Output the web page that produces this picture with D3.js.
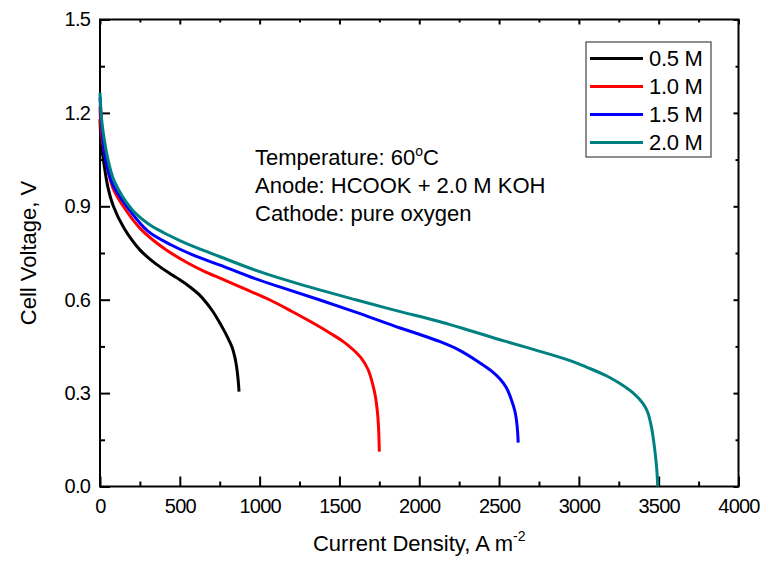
<!DOCTYPE html>
<html>
<head>
<meta charset="utf-8">
<script src="https://cdn.jsdelivr.net/npm/d3@7"></script>
<style>
  body { margin: 0; background: #fff; }
  svg { display: block; font-family: "Liberation Sans", Arial, sans-serif; }
  .tick text { font-size: 20px; letter-spacing: -0.8px; fill: #000; }
</style>
</head>
<body>
<svg id="chart" width="764" height="563"></svg>
<script>
// polarization curves, current density (A m-2) vs cell voltage (V)
const labels = ["0.5 M", "1.0 M", "1.5 M", "2.0 M"];
const colors = ["#000000", "#ff0000", "#0000ff", "#008080"];

const j05 = [0, 8, 21, 50, 84, 150, 250, 350, 450, 500, 564, 620, 670, 706, 740, 775, 800, 827, 845, 856, 865, 871];
const v05 = [1.18, 1.1, 1.05, 0.96, 0.9, 0.83, 0.76, 0.715, 0.68, 0.664, 0.641, 0.617, 0.588, 0.563, 0.535, 0.503, 0.478, 0.448, 0.415, 0.384, 0.345, 0.305];

const j10 = [0, 10, 36, 80, 146, 250, 400, 550, 650, 752, 900, 1065, 1200, 1335, 1450, 1520, 1585, 1640, 1680, 1705, 1725, 1738, 1745, 1750];
const v10 = [1.22, 1.13, 1.05, 0.96, 0.9, 0.83, 0.765, 0.718, 0.692, 0.669, 0.636, 0.599, 0.563, 0.525, 0.49, 0.467, 0.44, 0.41, 0.375, 0.335, 0.29, 0.24, 0.19, 0.112];

const j15 = [0, 12, 35, 80, 167, 300, 450, 600, 752, 948, 1150, 1378, 1625, 1875, 2000, 2131, 2250, 2381, 2450, 2506, 2545, 2580, 2600, 2613, 2620];
const v15 = [1.25, 1.15, 1.05, 0.97, 0.9, 0.82, 0.775, 0.74, 0.711, 0.672, 0.637, 0.599, 0.556, 0.51, 0.489, 0.465, 0.438, 0.397, 0.372, 0.345, 0.318, 0.275, 0.24, 0.195, 0.141];

const j20 = [0, 10, 25, 50, 90, 200, 300, 400, 500, 600, 752, 1000, 1250, 1608, 1875, 2125, 2542, 2750, 2958, 3050, 3175, 3260, 3341, 3400, 3430, 3455, 3475, 3488, 3494];
const v20 = [1.265, 1.18, 1.12, 1.05, 0.98, 0.89, 0.845, 0.815, 0.79, 0.768, 0.738, 0.69, 0.65, 0.599, 0.5625, 0.53, 0.466, 0.435, 0.402, 0.383, 0.355, 0.33, 0.3, 0.268, 0.24, 0.19, 0.12, 0.055, 0.0];

const xTicks = [0, 500, 1000, 1500, 2000, 2500, 3000, 3500, 4000];
const yTicks = [0.0, 0.3, 0.6, 0.9, 1.2, 1.5];
const notes = ["Temperature: 60", "Anode: HCOOK + 2.0 M KOH", "Cathode: pure oxygen"];

const series = [[j05, v05], [j10, v10], [j15, v15], [j20, v20]].map(([j, v], i) => ({
  label: labels[i],
  color: colors[i],
  points: j.map((d, k) => [d, v[k]]),
}));

const svg = d3.select("#chart");
const mLeft = 100, mRight = 738.5, mTop = 19.5, mBottom = 486.5;

const x = d3.scaleLinear().domain([0, 4000]).range([mLeft, mRight]);
const y = d3.scaleLinear().domain([0, 1.5]).range([mBottom, mTop]);

const xMinor = d3.range(250, 4000, 500);
const yMinor = d3.range(0.15, 1.5, 0.3);

// minor ticks first, no labels
svg.append("g").attr("transform", `translate(0,${mBottom})`)
  .call(d3.axisBottom(x).tickValues(xMinor).tickSize(-5).tickFormat(""));
svg.append("g").attr("transform", `translate(${mLeft},0)`)
  .call(d3.axisLeft(y).tickValues(yMinor).tickSize(-5).tickFormat(""));
svg.append("g").attr("transform", `translate(0,${mTop})`)
  .call(d3.axisTop(x).tickValues(xMinor).tickSize(-3).tickFormat(""));
svg.append("g").attr("transform", `translate(${mRight},0)`)
  .call(d3.axisRight(y).tickValues(yMinor).tickSize(-3).tickFormat(""));

// major ticks
svg.append("g").attr("transform", `translate(0,${mBottom})`)
  .call(d3.axisBottom(x).tickValues(xTicks).tickSize(-10).tickPadding(12).tickFormat(d3.format("d")));
svg.append("g").attr("transform", `translate(${mLeft},0)`)
  .call(d3.axisLeft(y).tickValues(yTicks).tickSize(-10).tickPadding(10).tickFormat(d3.format(".1f")));
svg.append("g").attr("transform", `translate(0,${mTop})`)
  .call(d3.axisTop(x).tickValues(xTicks).tickSize(-5).tickFormat(""));
svg.append("g").attr("transform", `translate(${mRight},0)`)
  .call(d3.axisRight(y).tickValues(yTicks).tickSize(-5).tickFormat(""));

svg.selectAll(".domain").remove();
svg.selectAll(".tick line").attr("stroke", "#000").attr("stroke-width", 2);
svg.selectAll("g").attr("font-family", null).attr("font-size", null);

// frame
svg.append("rect")
  .attr("x", mLeft).attr("y", mTop)
  .attr("width", mRight - mLeft).attr("height", mBottom - mTop)
  .attr("fill", "none").attr("stroke", "#000").attr("stroke-width", 2);

// curves
const line = d3.line()
  .x(d => x(d[0]))
  .y(d => y(d[1]))
  .curve(d3.curveCatmullRom.alpha(0.5));

svg.append("g").selectAll("path")
  .data(series)
  .join("path")
  .attr("d", d => line(d.points))
  .attr("fill", "none")
  .attr("stroke", d => d.color)
  .attr("stroke-width", 3)
  .attr("stroke-linejoin", "round");

// annotation
const note = svg.append("g").attr("font-size", 22).attr("fill", "#000");
notes.forEach((t, i) => {
  const txt = note.append("text").attr("x", 255).attr("y", 165 + i * 28).text(t);
  if (i === 0) {
    txt.append("tspan").attr("font-size", 14).attr("dy", -9).text("o");
    txt.append("tspan").attr("dy", 9).attr("font-size", 22).text("C");
  }
});

// legend
const legend = svg.append("g");
legend.append("rect")
  .attr("x", 586).attr("y", 42).attr("width", 125).attr("height", 115)
  .attr("fill", "#fff").attr("stroke", "#444").attr("stroke-width", 1.2);
series.forEach((s, i) => {
  const ly = 58.5 + i * 28;
  legend.append("line")
    .attr("x1", 590).attr("x2", 643).attr("y1", ly).attr("y2", ly)
    .attr("stroke", s.color).attr("stroke-width", 3);
  legend.append("text")
    .attr("x", 649).attr("y", ly).attr("dy", "0.36em")
    .attr("font-size", 22).attr("letter-spacing", -0.3)
    .text(s.label);
});

// axis titles
const xt = svg.append("text")
  .attr("x", (mLeft + mRight) / 2).attr("y", 551)
  .attr("text-anchor", "middle").attr("font-size", 22)
  .text("Current Density, A m");
xt.append("tspan").attr("font-size", 14).attr("dy", -10).text("-2");

svg.append("text")
  .attr("transform", `translate(36,${(mTop + mBottom) / 2}) rotate(-90)`)
  .attr("text-anchor", "middle").attr("font-size", 22)
  .text("Cell Voltage, V");
</script>
</body>
</html>
